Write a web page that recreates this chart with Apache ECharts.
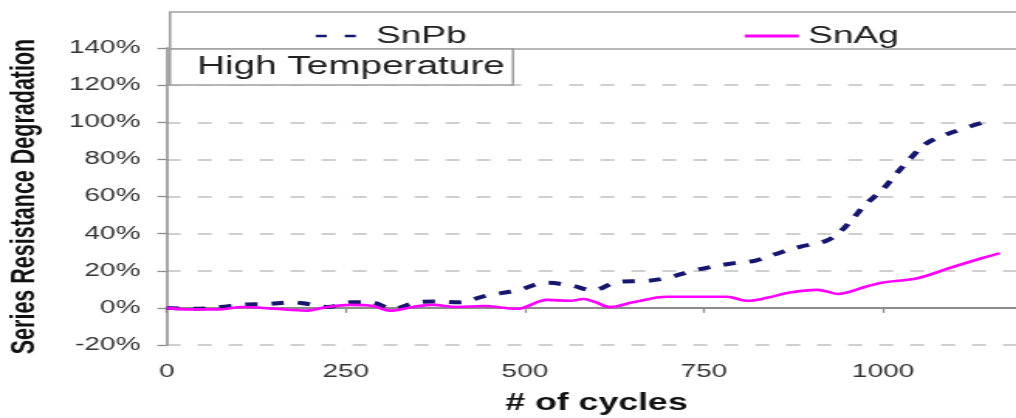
<!DOCTYPE html>
<html><head><meta charset="utf-8">
<script src="https://cdn.jsdelivr.net/npm/echarts@6/dist/echarts.min.js"></script>
<style>
html,body{margin:0;padding:0;background:#fff;overflow:hidden;}
#wrap{width:1016px;height:418px;overflow:hidden;position:relative;}
#chart{width:656px;height:418px;transform:scaleX(1.5488);transform-origin:0 0;}
</style></head><body>
<div id="wrap"><div id="chart"></div></div>
<script>
// ---- data ----
const seriesNames = ['SnPb', 'SnAg'];
const snpbCycles = [0, 40, 75, 110, 140, 175, 195, 225, 258, 285, 315, 350, 378, 408, 445, 490, 530, 565, 595, 630, 668, 697, 740, 790, 822, 858, 885, 920, 940, 960, 975, 1000, 1018, 1038, 1062, 1100, 1145];
const snpbValues = [0, -0.5, 0.5, 1.8, 2, 3, 2.2, 0.5, 3, 3, -0.5, 3, 3.5, 3, 6.5, 9.5, 13.5, 12, 9.5, 14, 14.5, 16, 20.5, 24, 25.5, 30, 33, 36, 41, 49, 55.5, 64, 72, 80.5, 89, 95, 100.5];
const snagCycles = [0, 30, 70, 107, 150, 195, 218, 256, 288, 312, 344, 372, 405, 442, 489, 531, 563, 582, 597, 619, 651, 698, 745, 782, 810, 838, 870, 908, 922, 937, 977, 1000, 1048, 1094, 1140, 1163];
const snagValues = [0, -0.8, -0.8, 0.5, -0.5, -1.5, 0, 1.6, 1, -1.5, 0.5, 1.6, 0.5, 1, -0.5, 4.3, 3.8, 4.8, 3.3, 0.4, 3, 6, 6, 6, 3.8, 5.4, 8.3, 9.7, 8.8, 7.5, 11.5, 13.7, 16, 21.6, 27, 29.5];
const yTicks = { min: -20, max: 140, step: 20 };
const xTicks = { min: 0, max: 1200, step: 250 };
const annotation = 'High Temperature';
const xTitle = '# of cycles';
const yTitle = 'Series Resistance Degradation';

// ---- layout (chart is drawn narrow then stretched horizontally like the reference) ----
const S = 1.5488;
const W = 656;
const px = x => x / S;
const FONT = "'Liberation Sans', Arial, sans-serif";
const pair = (xs, ys) => xs.map((x, i) => [x, ys[i]]);

const chart = echarts.init(document.getElementById('chart'), null, { renderer: 'canvas' });
chart.setOption({
  animation: false,
  backgroundColor: '#ffffff',
  grid: { left: px(166.7), right: W - px(1026.3), top: 48, bottom: 73, containLabel: false, outerBoundsMode: 'none' },
  xAxis: {
    type: 'value', min: xTicks.min, max: xTicks.max, interval: xTicks.step,
    name: xTitle, nameLocation: 'middle', nameGap: 47, nameMoveOverlap: false,
    nameTextStyle: { fontFamily: FONT, fontSize: 23, fontWeight: 'bold', color: '#111' },
    axisLine: { lineStyle: { color: '#8c8c8c', width: 2 } },
    axisTick: { length: 5, lineStyle: { color: '#8c8c8c', width: 1.3 } },
    axisLabel: { margin: 18, fontFamily: FONT, fontSize: 18, color: '#333',
      formatter: v => (v % xTicks.step === 0 ? String(v) : '') },
    splitLine: { show: false }
  },
  yAxis: {
    type: 'value', min: yTicks.min, max: yTicks.max, interval: yTicks.step,
    name: yTitle, nameLocation: 'middle', nameGap: 81, nameMoveOverlap: false,
    nameTextStyle: { fontFamily: FONT, fontSize: 21.5, fontWeight: 'bold', color: '#111' },
    axisLine: { show: true, lineStyle: { color: '#8c8c8c', width: 1.5 } },
    axisTick: { show: true, length: 6, lineStyle: { color: '#8c8c8c', width: 1.3 } },
    axisLabel: { margin: 17, fontFamily: FONT, fontSize: 18, color: '#333', formatter: v => v + '%' },
    splitLine: { show: true, lineStyle: { color: '#cfcfcf', width: 2, type: [9, 11] } }
  },
  legend: [
    { data: [seriesNames[0]], left: px(308), top: 19, itemWidth: px(40), itemHeight: 4, z: 200,
      icon: 'path://M0,0H11V4H0Z M29,0H40V4H29Z',
      textStyle: { fontFamily: FONT, fontSize: 24, lineHeight: 24, color: '#222', padding: [0, 0, 0, 8] } },
    { data: [seriesNames[1]], left: px(737), top: 19, itemWidth: px(54), itemHeight: 3, z: 200,
      icon: 'rect',
      textStyle: { fontFamily: FONT, fontSize: 24, lineHeight: 24, color: '#222', padding: [0, 0, 0, 1] } }
  ],
  graphic: [
    { type: 'rect', z: 100, shape: { x: px(170), y: 12, width: 700, height: 37 },
      style: { fill: '#fff', stroke: '#a0a0a0', lineWidth: 1.6 } },
    { type: 'rect', z: 100, shape: { x: px(170), y: 49, width: px(513) - px(170), height: 36 },
      style: { fill: '#fff', stroke: '#a0a0a0', lineWidth: 1.6 } },
    { type: 'text', z: 101, x: px(197), y: 67,
      style: { text: annotation, fontFamily: FONT, fontSize: 25, fill: '#222', verticalAlign: 'middle', align: 'left' } }
  ],
  series: [
    { name: seriesNames[0], type: 'line', data: pair(snpbCycles, snpbValues), symbol: 'none', smooth: 0.35,
      color: '#16166e', lineStyle: { color: '#16166e', width: 4, type: [8, 9] }, z: 3 },
    { name: seriesNames[1], type: 'line', data: pair(snagCycles, snagValues), symbol: 'none', smooth: 0.35,
      color: '#ff00ff', lineStyle: { color: '#ff00ff', width: 2.6 }, z: 4 }
  ]
});
</script>
</body></html>
